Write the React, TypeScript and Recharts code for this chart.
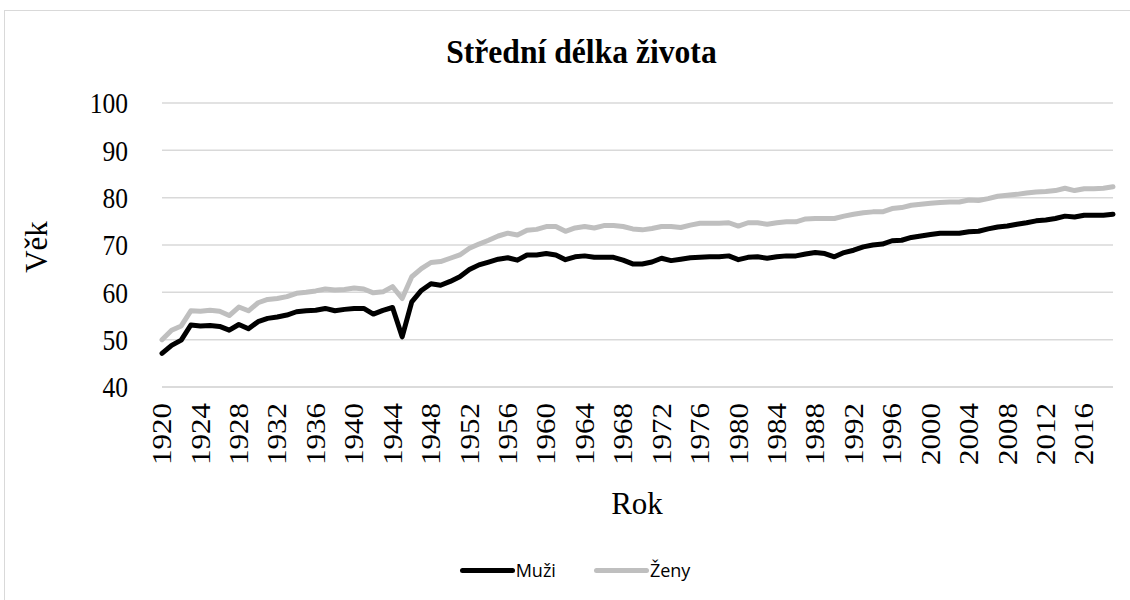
import React from 'react'
import { LineChart, Line, XAxis, YAxis, CartesianGrid, Legend } from 'recharts'

const years = [
  1920, 1921, 1922, 1923, 1924, 1925, 1926, 1927, 1928, 1929,
  1930, 1931, 1932, 1933, 1934, 1935, 1936, 1937, 1938, 1939,
  1940, 1941, 1942, 1943, 1944, 1945, 1946, 1947, 1948, 1949,
  1950, 1951, 1952, 1953, 1954, 1955, 1956, 1957, 1958, 1959,
  1960, 1961, 1962, 1963, 1964, 1965, 1966, 1967, 1968, 1969,
  1970, 1971, 1972, 1973, 1974, 1975, 1976, 1977, 1978, 1979,
  1980, 1981, 1982, 1983, 1984, 1985, 1986, 1987, 1988, 1989,
  1990, 1991, 1992, 1993, 1994, 1995, 1996, 1997, 1998, 1999,
  2000, 2001, 2002, 2003, 2004, 2005, 2006, 2007, 2008, 2009,
  2010, 2011, 2012, 2013, 2014, 2015, 2016, 2017, 2018, 2019,
]

// Muži (men)
const muzi = [
  47.1, 48.8, 49.9, 53.1, 52.9, 53.0, 52.8, 52.0, 53.2, 52.3,
  53.8, 54.5, 54.8, 55.2, 55.9, 56.1, 56.2, 56.6, 56.1, 56.4,
  56.6, 56.6, 55.4, 56.2, 56.8, 50.6, 58.0, 60.4, 61.8, 61.5,
  62.3, 63.3, 64.8, 65.8, 66.4, 67.0, 67.3, 66.8, 67.9, 67.9,
  68.2, 67.9, 66.9, 67.5, 67.7, 67.4, 67.4, 67.4, 66.8, 66.0,
  66.0, 66.4, 67.2, 66.7, 67.0, 67.3, 67.4, 67.5, 67.5, 67.7,
  66.9, 67.4, 67.5, 67.2, 67.5, 67.7, 67.7, 68.1, 68.4, 68.2,
  67.5, 68.4, 68.9, 69.6, 70.0, 70.2, 70.9, 71.0, 71.6, 71.9,
  72.2, 72.5, 72.5, 72.5, 72.8, 72.9, 73.4, 73.8, 74.0, 74.4,
  74.7, 75.1, 75.3, 75.6, 76.1, 75.9, 76.3, 76.3, 76.3, 76.5,
]

// Ženy (women)
const zeny = [
  50.0, 52.0, 52.9, 56.1, 56.0, 56.2, 56.0, 55.1, 56.9, 56.1,
  57.8, 58.5, 58.7, 59.1, 59.8, 60.0, 60.3, 60.7, 60.5, 60.6,
  60.9, 60.7, 59.9, 60.1, 61.2, 58.7, 63.3, 65.0, 66.3, 66.5,
  67.2, 67.9, 69.3, 70.2, 71.0, 71.9, 72.5, 72.1, 73.1, 73.3,
  73.9, 73.9, 72.9, 73.6, 73.9, 73.6, 74.1, 74.1, 73.9, 73.4,
  73.2, 73.5, 73.9, 73.9, 73.7, 74.2, 74.6, 74.6, 74.6, 74.7,
  74.0, 74.7, 74.7, 74.4, 74.7, 74.9, 74.9, 75.5, 75.6, 75.6,
  75.6, 76.1, 76.5, 76.8, 77.0, 77.0, 77.7, 77.9, 78.4, 78.6,
  78.8, 79.0, 79.1, 79.1, 79.5, 79.4, 79.8, 80.3, 80.5, 80.7,
  81.0, 81.2, 81.3, 81.5, 82.0, 81.5, 81.9, 81.9, 82.0, 82.3,
]

const yTicks = [40, 50, 60, 70, 80, 90, 100]

const data = years.map((year, i) => ({ year, muzi: muzi[i], zeny: zeny[i] }))

const SERIF = '"Liberation Serif", "Times New Roman", serif'
const SANS = '"Open Sans", "Liberation Sans", sans-serif'

// rotated year labels, glyphs a bit narrow like the original
function YearTick({ x, y, payload }: any) {
  const ty = y + 8
  return (
    <text transform={`translate(${x}, ${ty}) rotate(-90) scale(1, 0.86)`} textAnchor="end"
      dominantBaseline="central" fontFamily={SERIF} fontSize={31} fill="#000">
      {payload.value}
    </text>
  )
}

function ValueTick({ x, y, payload }: any) {
  return (
    <text transform={`translate(${x - 26}, ${y}) scale(0.85, 1)`} textAnchor="end" dominantBaseline="central"
      fontFamily={SERIF} fontSize={30} fill="#000">
      {payload.value}
    </text>
  )
}

function LegendBox() {
  const items = [
    { color: '#000000', label: 'Muži' },
    { color: '#BFBFBF', label: 'Ženy' },
  ]
  return (
    <div style={{ display: 'flex', justifyContent: 'center', gap: 38, paddingLeft: 20, fontFamily: SANS, fontSize: 18 }}>
      {items.map(it => (
        <div key={it.label} style={{ display: 'flex', alignItems: 'center' }}>
          <div style={{ width: 55, height: 5, borderRadius: 3, background: it.color }} />
          <span style={{ marginLeft: 1, color: '#000' }}>{it.label}</span>
        </div>
      ))}
    </div>
  )
}

export default function App() {
  return (
    <div style={{ position: 'absolute', left: 0, top: 0, width: 1130, height: 600, overflow: 'hidden', background: '#fff' }}>
      <div style={{ position: 'absolute', left: 4, top: 10, width: 1140, height: 620, border: '1.5px solid #D9D9D9' }} />
      <div style={{ position: 'absolute', left: 16, top: 33, width: 1130, textAlign: 'center' }}>
        <span style={{ display: 'inline-block', transform: 'scaleX(0.93)', fontFamily: SERIF, fontWeight: 'bold', fontSize: 34 }}>
          Střední délka života
        </span>
      </div>
      <LineChart width={1130} height={600} data={data} margin={{ top: 103, right: 17, bottom: 0, left: 0 }}
        style={{ position: 'absolute', left: 0, top: 0 }}>
        <CartesianGrid vertical={false} stroke="#D9D9D9" strokeWidth={1.5} />
        <XAxis dataKey="year" height={213} interval={3} tick={<YearTick />} tickLine={false}
          axisLine={{ stroke: '#D9D9D9', strokeWidth: 1.5 }}
          label={{ content: () => (
            <text x={637} y={503} textAnchor="middle" dominantBaseline="central" fontFamily={SERIF} fontSize={31} fill="#000">Rok</text>
          ) }} />
        <YAxis width={162} domain={[40, 100]} ticks={yTicks} tick={<ValueTick />} tickLine={false} axisLine={false}
          label={{ content: () => (
            <text x={36} y={247} transform="rotate(-90, 36, 247)" textAnchor="middle" dominantBaseline="central"
              fontFamily={SERIF} fontSize={31} fill="#000">Věk</text>
          ) }} />
        <Legend layout="horizontal" verticalAlign="middle" align="center" content={<LegendBox />}
          wrapperStyle={{ top: 558, left: 0, width: 1130 }} />
        <Line type="linear" dataKey="muzi" name="Muži" stroke="#000000" strokeWidth={5} dot={false}
          strokeLinejoin="round" strokeLinecap="round" isAnimationActive={false} />
        <Line type="linear" dataKey="zeny" name="Ženy" stroke="#BFBFBF" strokeWidth={5} dot={false}
          strokeLinejoin="round" strokeLinecap="round" isAnimationActive={false} />
      </LineChart>
    </div>
  )
}
